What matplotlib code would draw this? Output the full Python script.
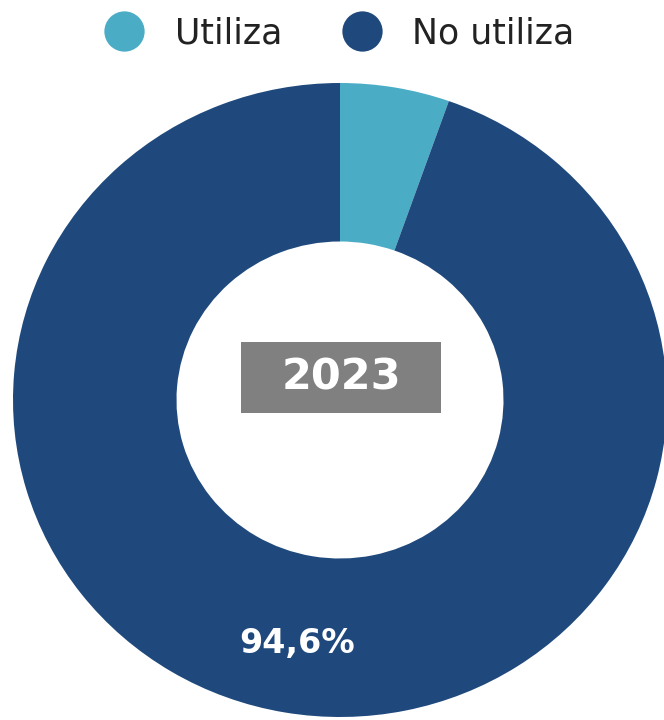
import matplotlib.pyplot as plt
from matplotlib.lines import Line2D
from matplotlib.patches import Rectangle

# datos
categorias = ["Utiliza", "No utiliza"]
porcentajes = [5.4, 94.6]
colores = ["#4BACC6", "#1F497D"]
anio = "2023"

fig = plt.figure(figsize=(6.64, 7.2), dpi=100)
ax = fig.add_axes([0, 0, 1, 1])

def etiqueta(p):
    # solo se muestra la etiqueta del sector grande
    if p < 10:
        return ""
    return f"{p:.1f}%".replace(".", ",")

wedges, textos, autotextos = ax.pie(
    porcentajes, colors=colores, startangle=90, counterclock=False,
    wedgeprops=dict(width=0.5, linewidth=0), autopct=etiqueta,
    pctdistance=0.78, textprops=dict(color="white", fontsize=24, fontweight="bold"))

# la imagen original esta un poco estirada en horizontal
ax.set_aspect("auto")
ax.set_xlim(-340 / 327, (664 - 340) / 327)
ax.set_ylim(-320 / 317, 400 / 317)
ax.axis("off")

# caja del año en el centro
fig.add_artist(Rectangle((241 / 664, 1 - 413 / 720), 200 / 664, 71 / 720,
                         transform=fig.transFigure, facecolor="#808080", edgecolor="none"))
fig.text(341 / 664, 1 - 377 / 720, anio, ha="center", va="center",
         color="white", fontsize=31, fontweight="bold")

handles = [Line2D([], [], linestyle="none", marker="o", markersize=29,
                  markerfacecolor=c, markeredgecolor="none") for c in colores]
fig.legend(handles, categorias, loc="center", bbox_to_anchor=(0.5, 1 - 33 / 720),
           ncol=2, frameon=False, fontsize=25, columnspacing=1.3,
           handletextpad=0.45, labelcolor="#222222")

fig.savefig("out.png", dpi=100)
